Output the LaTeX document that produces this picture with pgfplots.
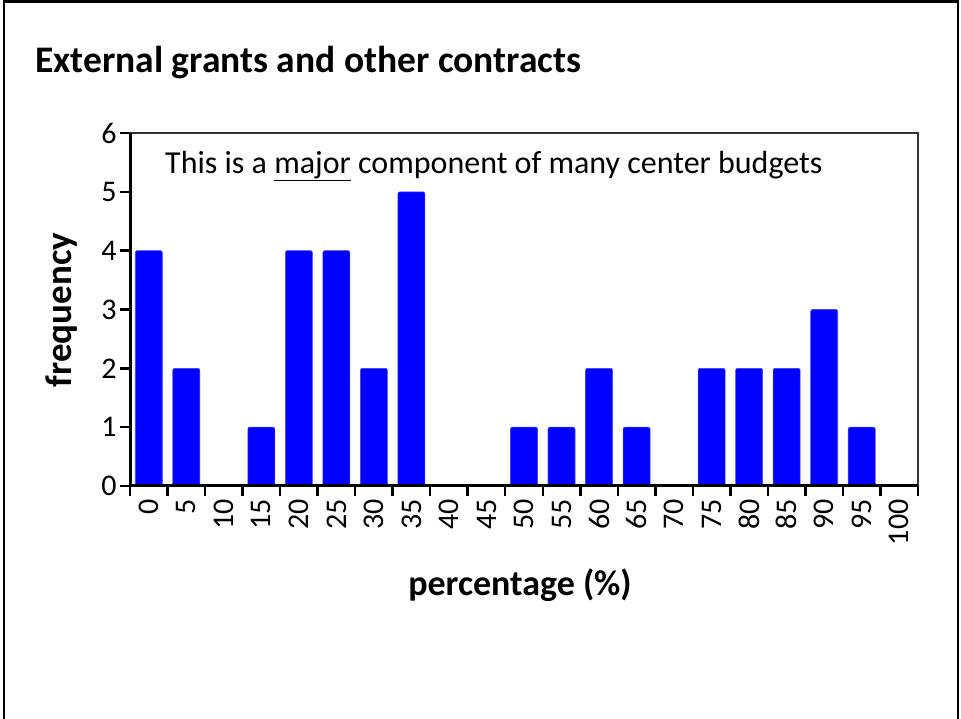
\documentclass[border=0pt]{standalone}
\usepackage{fontspec}
\setmainfont{Carlito}
\usepackage{pgfplots}
\pgfplotsset{compat=1.18}
\begin{document}
\begin{tikzpicture}
\path[use as bounding box] (0pt,0pt) rectangle (961pt,719pt);
% slide frame
\draw[line width=2.5pt] (4pt,0pt) -- (4pt,717.5pt) -- (958pt,717.5pt) -- (958pt,0pt);
\node[anchor=west,inner sep=0pt,font=\fontsize{37.5}{44}\selectfont\bfseries] at (35pt,656pt) {External grants and other contracts};

\begin{axis}[
    at={(130pt,233pt)}, anchor=south west,
    scale only axis, width=788pt, height=353pt,
    ybar, bar width=3.6,
    xmin=-2.5, xmax=102.5, ymin=0, ymax=6,
    xtick={0,5,...,100}, ytick={0,...,6},
    minor xtick={-2.5,2.5,...,102.5},
    xtick pos=bottom, ytick pos=left,
    tick align=outside,
    major tick length=10pt, minor tick length=10pt,
    major x tick style={draw=none},
    every tick/.style={black, line width=2.5pt},
    minor x tick style={black, line width=2.5pt},
    axis line style={line width=1.2pt, black!80},
    /pgf/number format/assume math mode=true,
    ticklabel style={font=\fontsize{30}{34}\selectfont},
    xticklabel style={rotate=90, anchor=east},
    clip=false,
]
\addplot[fill=blue, draw=blue!75!white, line width=0.6pt, rounded corners=2pt] coordinates {
    (0,4) (5,2) (10,0) (15,1) (20,4) (25,4) (30,2) (35,5) (40,0) (45,0)
    (50,1) (55,1) (60,2) (65,1) (70,0) (75,2) (80,2) (85,2) (90,3) (95,1) (100,0)
};
\draw[line width=3pt, black] (rel axis cs:0,1) -- (rel axis cs:0,0) -- (rel axis cs:1,0);
\end{axis}

\node[rotate=90,font=\fontsize{37}{42}\selectfont\bfseries] at (62pt,409pt) {frequency};
\node[font=\fontsize{36}{42}\selectfont\bfseries] at (520pt,134pt) {percentage (\%)};
\node[anchor=west,inner sep=0pt,font=\fontsize{32}{38}\selectfont] at (165pt,553pt) {This is a \underline{major} component of many center budgets};
\end{tikzpicture}
\end{document}
